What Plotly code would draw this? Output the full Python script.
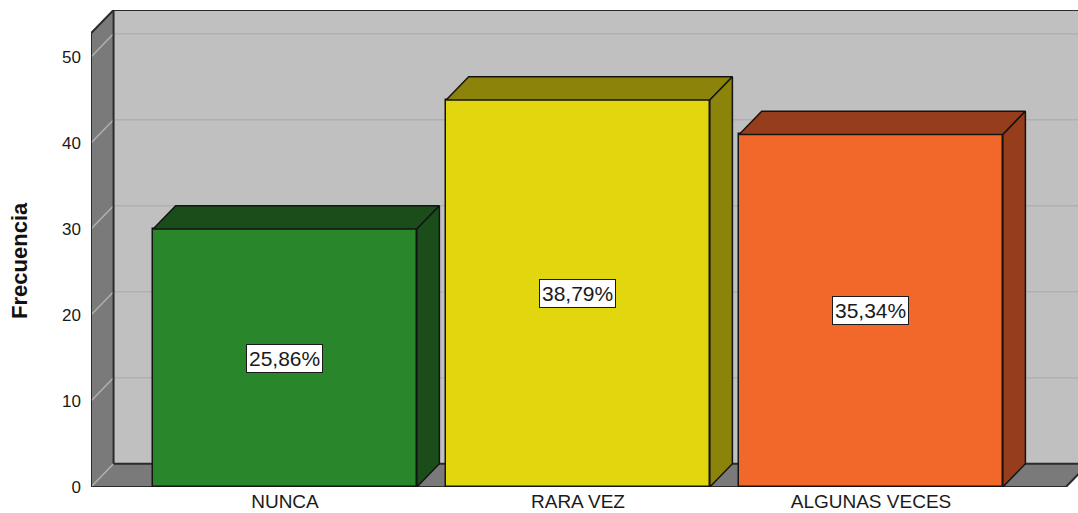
import plotly.graph_objects as go

# Frequency per answer category
categories = ["NUNCA", "RARA VEZ", "ALGUNAS VECES"]
counts = [30, 45, 41]
front_colors = ["#2a862a", "#e2d70f", "#f2682b"]
shade_colors = ["#1a4d1a", "#8c840a", "#963d1c"]
y_ticks = [0, 10, 20, 30, 40, 50]

total = sum(counts)
pct_labels = [f"{c / total * 100:.2f}%".replace(".", ",") for c in counts]

# 3D box geometry (axis units)
BAR_W = 0.9
DX, DY = 0.077, 2.7          # depth offset of the back plane
X0, X1 = -0.662, 2.665       # front floor extent
XR = (-0.662, 2.7065)        # visible x range
YR = (0, 55.47)              # visible y range
YT = YR[1] - DY              # top of the front plane

EDGE = "#2b2b2b"
WALL = "#7a7a7a"
BACK = "#c0c0c0"
GRID = "#b0b0b0"

shapes = []
# back wall
shapes.append(dict(type="rect", xref="x", yref="y", layer="below",
                   x0=X0 + DX, x1=XR[1] + 1, y0=DY, y1=YR[1],
                   fillcolor=BACK, line=dict(width=0)))
# horizontal grid on back wall
for v in y_ticks[1:]:
    shapes.append(dict(type="line", xref="x", yref="y", layer="below",
                       x0=X0 + DX, x1=XR[1] + 1, y0=v + DY, y1=v + DY,
                       line=dict(color=GRID, width=1.5)))
# left wall
shapes.append(dict(type="path", xref="x", yref="y", layer="below",
                   path=f"M{X0},0 L{X0},{YT} L{X0 + DX},{YR[1]} L{X0 + DX},{DY} Z",
                   fillcolor=WALL, line=dict(width=0)))
# floor
shapes.append(dict(type="path", xref="x", yref="y", layer="below",
                   path=f"M{X0},0 L{X0 + DX},{DY} L{X1 + DX},{DY} L{X1},0 Z",
                   fillcolor=WALL, line=dict(width=0)))
# grid diagonals on left wall
for v in y_ticks:
    shapes.append(dict(type="line", xref="x", yref="y", layer="below",
                       x0=X0, y0=v, x1=X0 + DX, y1=v + DY,
                       line=dict(color=GRID, width=1.5)))
# dark edges of the box
edges = [
    (X0, 0, X0, YT),                       # front vertical axis
    (X0, YT, X0 + DX, YR[1]),              # top-left diagonal
    (X0 + DX, YR[1], XR[1] + 1, YR[1]),    # top edge of back wall
    (X0 + DX, DY, X0 + DX, YR[1]),         # inner vertical corner
    (X0 + DX, DY, XR[1] + 1, DY),          # floor / back wall joint
    (X0, 0, X1, 0),                        # front horizontal axis
    (X1, 0, X1 + DX, DY),                  # floor right diagonal
]
for (xa, ya, xb, yb) in edges:
    shapes.append(dict(type="line", xref="x", yref="y", layer="below",
                       x0=xa, y0=ya, x1=xb, y1=yb,
                       line=dict(color=EDGE, width=2)))

fig = go.Figure()

# front faces
fig.add_trace(go.Bar(
    x=list(range(len(categories))), y=counts, width=BAR_W,
    marker=dict(color=front_colors, line=dict(color="#141414", width=1.5)),
    hoverinfo="skip", showlegend=False,
))

# top and side faces
for i, (v, shade) in enumerate(zip(counts, shade_colors)):
    xl, xr = i - BAR_W / 2, i + BAR_W / 2
    top_x = [xl, xl + DX, xr + DX, xr, xl]
    top_y = [v, v + DY, v + DY, v, v]
    side_x = [xr, xr, xr + DX, xr + DX, xr]
    side_y = [0, v, v + DY, DY, 0]
    for px, py in ((top_x, top_y), (side_x, side_y)):
        fig.add_trace(go.Scatter(
            x=px, y=py, mode="lines", fill="toself", fillcolor=shade,
            line=dict(color="#141414", width=1.5),
            hoverinfo="skip", showlegend=False,
        ))

annotations = []
for i, (v, lab) in enumerate(zip(counts, pct_labels)):
    annotations.append(dict(
        x=i, y=v / 2, xref="x", yref="y", text=lab, showarrow=False,
        font=dict(family="Liberation Sans, Arial", size=21, color="#1a1a1a"),
        bgcolor="white", bordercolor="#1a1a1a", borderwidth=1, borderpad=2,
    ))
annotations.append(dict(
    x=-0.072, y=0.476, xref="paper", yref="paper", text="<b>Frecuencia</b>",
    textangle=-90, showarrow=False, xanchor="center", yanchor="middle",
    font=dict(family="Liberation Sans, Arial", size=22, color="#111111"),
))

fig.update_layout(
    width=1078, height=513,
    margin=dict(l=91, r=0, t=10, b=26, pad=0),
    paper_bgcolor="white", plot_bgcolor="white",
    shapes=shapes, annotations=annotations,
    bargap=0,
    xaxis=dict(
        range=list(XR), tickmode="array", tickvals=list(range(len(categories))),
        ticktext=categories, showgrid=False, zeroline=False, showline=False,
        ticks="", ticklabelstandoff=1, automargin=False, fixedrange=True,
        tickfont=dict(family="Liberation Sans, Arial", size=19, color="#1a1a1a"),
    ),
    yaxis=dict(
        range=list(YR), tickmode="array", tickvals=y_ticks,
        showgrid=False, zeroline=False, showline=False,
        ticks="", ticklabelstandoff=9, automargin=False, fixedrange=True,
        tickfont=dict(family="Liberation Sans, Arial", size=17, color="#1a1a1a"),
    ),
)

fig.write_html("out.html")
